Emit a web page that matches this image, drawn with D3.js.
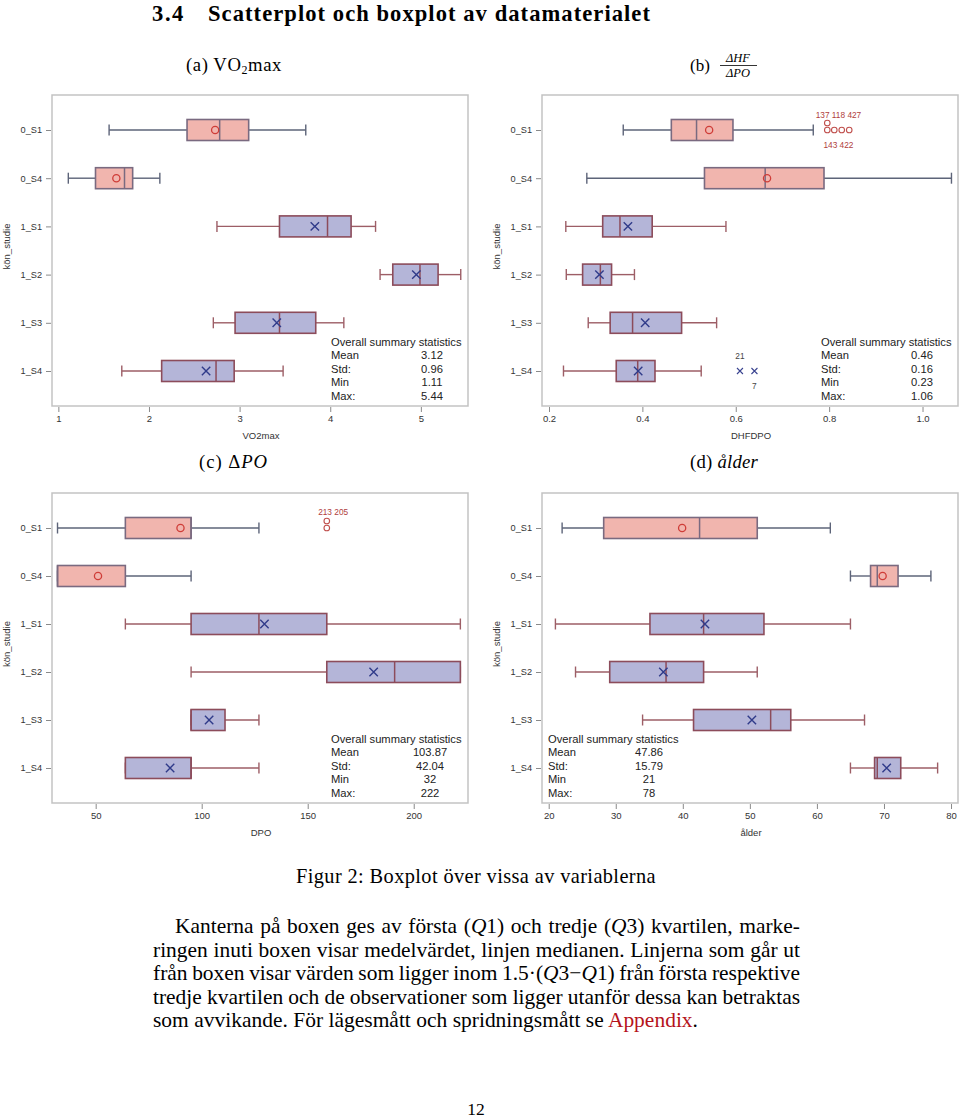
<!DOCTYPE html>
<html><head><meta charset="utf-8">
<script src="https://cdn.jsdelivr.net/npm/d3@7"></script>
<style>body{margin:0;background:#fff}svg{display:block}</style>
</head><body>
<script>
// ---------- DATA ----------
const categories = ["0_S1","0_S4","1_S1","1_S2","1_S3","1_S4"];
const statNames = ["Mean","Std:","Min","Max:"];

// (a) VO2max
const vo2Low    = [1.56, 1.11, 2.75, 4.55, 2.71, 1.70];
const vo2Q1     = [2.42, 1.41, 3.44, 4.69, 2.95, 2.14];
const vo2Median = [2.78, 1.73, 3.97, 4.99, 3.44, 2.74];
const vo2Q3     = [3.10, 1.82, 4.23, 5.19, 3.84, 2.94];
const vo2High   = [3.73, 2.12, 4.50, 5.44, 4.15, 3.48];
const vo2Mean   = [2.73, 1.64, 3.83, 4.95, 3.41, 2.63];
const vo2Ticks  = [1, 2, 3, 4, 5];
const vo2Stats  = ["3.12", "0.96", "1.11", "5.44"];

// (b) DHFDPO
const dhfLow    = [0.359, 0.281, 0.236, 0.237, 0.284, 0.231];
const dhfQ1     = [0.462, 0.533, 0.315, 0.272, 0.331, 0.344];
const dhfMedian = [0.516, 0.663, 0.352, 0.310, 0.379, 0.390];
const dhfQ3     = [0.594, 0.789, 0.421, 0.334, 0.484, 0.427];
const dhfHigh   = [0.766, 1.062, 0.579, 0.383, 0.559, 0.526];
const dhfMean   = [0.543, 0.667, 0.369, 0.308, 0.406, 0.391];
const dhfTicks  = [0.2, 0.4, 0.6, 0.8, 1.0];
const dhfStats  = ["0.46", "0.16", "0.23", "1.06"];
const dhfOutCat   = ["0_S1","0_S1","0_S1","0_S1","0_S1","1_S4","1_S4"];
const dhfOutValue = [0.796, 0.796, 0.811, 0.827, 0.843, 0.609, 0.640];
const dhfOutStack = [1, 0, 0, 0, 0, 0, 0];
const dhfLabelText  = ["137 118 427", "143 422", "21", "7"];
const dhfLabelCat   = ["0_S1", "0_S1", "1_S4", "1_S4"];
const dhfLabelValue = [0.820, 0.820, 0.609, 0.640];
const dhfLabelSide  = ["above", "below", "above", "below"];

// (c) DPO
const dpoLow    = [32, 32, 64, 95, 95, 64];
const dpoQ1     = [64, 32, 95, 159, 95, 64];
const dpoMedian = [95, 32, 127, 191, 95, 95];
const dpoQ3     = [95, 64, 159, 222, 111, 95];
const dpoHigh   = [127, 95, 222, 222, 127, 127];
const dpoMean   = [90.0, 51.1, 129.6, 181.1, 103.5, 85.1];
const dpoTicks  = [50, 100, 150, 200];
const dpoStats  = ["103.87", "42.04", "32", "222"];
const dpoOutCat   = ["0_S1", "0_S1"];
const dpoOutValue = [159, 159];
const dpoOutStack = [0, 1];
const dpoLabelText  = ["213 205"];
const dpoLabelCat   = ["0_S1"];
const dpoLabelValue = [162];
const dpoLabelSide  = ["above2"];

// (d) ålder
const ageLow    = [22, 65, 21, 24, 34, 65];
const ageQ1     = [28.2, 68, 35.1, 29.1, 41.6, 68.6];
const ageMedian = [42.5, 69, 43.1, 37.5, 53.1, 69];
const ageQ3     = [51.1, 72.1, 52.1, 43.1, 56.1, 72.5];
const ageHigh   = [62, 77, 65, 51.1, 67.1, 78];
const ageMean   = [39.9, 69.8, 43.3, 37.1, 50.3, 70.4];
const ageTicks  = [20, 30, 40, 50, 60, 70, 80];
const ageStats  = ["47.86", "15.79", "21", "78"];

// ---------- DRAW ----------
const svg = d3.select("body").append("svg").attr("width", 960).attr("height", 1119);
const SANS = "'Liberation Sans', Arial, sans-serif";
const SERIF = "'Liberation Serif', 'Times New Roman', serif";

const C = {
  fill0: "#f1b5ae", fill1: "#b4b5d8",
  box0: "#7a6a80", box1: "#8c4c5b",
  wh0: "#5d6479", wh1: "#9d5e66",
  mean0: "#cf3d38", mean1: "#303b8a",
  frame: "#c3c3c3", text: "#333"
};

function drawPanel(cfg) {
  const g = svg.append("g");
  const x = d3.scaleLinear().domain(cfg.domain).range([cfg.left, cfg.right]);
  const y = d3.scalePoint().domain(categories).range([cfg.top + 35, cfg.bottom - 35]);

  g.append("rect").attr("x", cfg.left).attr("y", cfg.top)
    .attr("width", cfg.right - cfg.left).attr("height", cfg.bottom - cfg.top)
    .attr("fill", "#fff").attr("stroke", C.frame).attr("stroke-width", 1.5);

  const xa = g.append("g").attr("transform", `translate(0,${cfg.bottom + 1})`)
    .call(d3.axisBottom(x).tickValues(cfg.ticks).tickFormat(cfg.fmt).tickSize(5).tickPadding(3));
  xa.select(".domain").remove();
  xa.selectAll("line").attr("stroke", "#8a8a8a");
  xa.selectAll("text").attr("font-family", SANS).attr("font-size", 9.5).attr("fill", C.text);

  const ya = g.append("g").attr("transform", `translate(${cfg.left - 1},0)`)
    .call(d3.axisLeft(y).tickSize(5).tickPadding(4));
  ya.select(".domain").remove();
  ya.selectAll("line").attr("stroke", "#8a8a8a");
  ya.selectAll("text").attr("font-family", SANS).attr("font-size", 9.2).attr("fill", C.text);

  g.append("text").attr("transform", `translate(${cfg.left - 42},${(cfg.top + cfg.bottom) / 2 - 4}) rotate(-90)`)
    .attr("text-anchor", "middle").attr("font-family", SANS).attr("font-size", 9.5)
    .attr("fill", C.text).text("kön_studie");
  g.append("text").attr("x", (cfg.left + cfg.right) / 2 + 1).attr("y", cfg.bottom + 33)
    .attr("text-anchor", "middle").attr("font-family", SANS).attr("font-size", 9.5)
    .attr("fill", C.text).text(cfg.title);

  const rows = categories.map((c, i) => ({
    cat: c, g0: c[0] === "0",
    lo: cfg.low[i], q1: cfg.q1[i], med: cfg.med[i], q3: cfg.q3[i], hi: cfg.high[i], mean: cfg.mean[i]
  }));
  const bh = 21, ch = 11;
  rows.forEach(r => {
    const cy = y(r.cat);
    const wc = r.g0 ? C.wh0 : C.wh1;
    const bc = r.g0 ? C.box0 : C.box1;
    const rg = g.append("g");
    rg.append("line").attr("x1", x(r.lo)).attr("x2", x(r.q1)).attr("y1", cy).attr("y2", cy)
      .attr("stroke", wc).attr("stroke-width", 1.4);
    rg.append("line").attr("x1", x(r.q3)).attr("x2", x(r.hi)).attr("y1", cy).attr("y2", cy)
      .attr("stroke", wc).attr("stroke-width", 1.4);
    [r.lo, r.hi].forEach(v => rg.append("line").attr("x1", x(v)).attr("x2", x(v))
      .attr("y1", cy - ch / 2).attr("y2", cy + ch / 2).attr("stroke", wc).attr("stroke-width", 1.4));
    rg.append("rect").attr("x", x(r.q1)).attr("y", cy - bh / 2)
      .attr("width", Math.max(0, x(r.q3) - x(r.q1))).attr("height", bh)
      .attr("fill", r.g0 ? C.fill0 : C.fill1).attr("stroke", bc).attr("stroke-width", 1.6);
    rg.append("line").attr("x1", x(r.med)).attr("x2", x(r.med))
      .attr("y1", cy - bh / 2).attr("y2", cy + bh / 2).attr("stroke", bc).attr("stroke-width", 1.5);
    const mx = x(r.mean);
    if (r.g0) {
      rg.append("circle").attr("cx", mx).attr("cy", cy).attr("r", 3.6)
        .attr("fill", "none").attr("stroke", C.mean0).attr("stroke-width", 1.3);
    } else {
      const s = 4.2;
      rg.append("path").attr("d", `M${mx - s},${cy - s}L${mx + s},${cy + s}M${mx - s},${cy + s}L${mx + s},${cy - s}`)
        .attr("stroke", C.mean1).attr("stroke-width", 1.4);
    }
  });

  if (cfg.outCat) {
    cfg.outCat.forEach((c, i) => {
      const ox = x(cfg.outValue[i]), oy = y(c) - cfg.outStack[i] * 7;
      if (c[0] === "0") {
        g.append("circle").attr("cx", ox).attr("cy", oy).attr("r", 2.8)
          .attr("fill", "none").attr("stroke", "#c0504d").attr("stroke-width", 1.1);
      } else {
        const s = 3;
        g.append("path").attr("d", `M${ox - s},${oy - s}L${ox + s},${oy + s}M${ox - s},${oy + s}L${ox + s},${oy - s}`)
          .attr("stroke", "#3a4490").attr("stroke-width", 1.1);
      }
    });
    cfg.labelText.forEach((t, i) => {
      const c = cfg.labelCat[i];
      const side = cfg.labelSide[i];
      const dy = side === "above" ? -15 : side === "above2" ? -16 : 15;
      g.append("text").attr("x", x(cfg.labelValue[i])).attr("y", y(c) + dy)
        .attr("dy", "0.35em").attr("text-anchor", "middle").attr("font-family", SANS)
        .attr("font-size", 8.3).attr("fill", c[0] === "0" ? "#b0403c" : "#444").text(t);
    });
  }

  const sy = cfg.bottom - 64;
  g.append("text").attr("x", cfg.statX).attr("y", sy).attr("dy", "0.35em")
    .attr("font-family", SANS).attr("font-size", 11.2).attr("fill", "#222")
    .text("Overall summary statistics");
  statNames.forEach((n, i) => {
    const yy = sy + 13.5 * (i + 1);
    g.append("text").attr("x", cfg.statX).attr("y", yy).attr("dy", "0.35em")
      .attr("font-family", SANS).attr("font-size", 11.2).attr("fill", "#222").text(n);
    g.append("text").attr("x", cfg.statVX).attr("y", yy).attr("dy", "0.35em").attr("text-anchor", "middle")
      .attr("font-family", SANS).attr("font-size", 11.2).attr("fill", "#222").text(cfg.stats[i]);
  });
}

drawPanel({left: 52, right: 468, top: 95, bottom: 406, domain: [0.93, 5.52], ticks: vo2Ticks,
  fmt: d3.format("d"), title: "VO2max",
  low: vo2Low, q1: vo2Q1, med: vo2Median, q3: vo2Q3, high: vo2High, mean: vo2Mean,
  stats: vo2Stats, statX: 331, statVX: 432});
drawPanel({left: 542, right: 958, top: 95, bottom: 406, domain: [0.185, 1.076], ticks: dhfTicks,
  fmt: d3.format(".1f"), title: "DHFDPO",
  low: dhfLow, q1: dhfQ1, med: dhfMedian, q3: dhfQ3, high: dhfHigh, mean: dhfMean,
  outCat: dhfOutCat, outValue: dhfOutValue, outStack: dhfOutStack,
  labelText: dhfLabelText, labelCat: dhfLabelCat, labelValue: dhfLabelValue, labelSide: dhfLabelSide,
  stats: dhfStats, statX: 821, statVX: 922});
drawPanel({left: 52, right: 468, top: 493, bottom: 803, domain: [29.4, 225.6], ticks: dpoTicks,
  fmt: d3.format("d"), title: "DPO",
  low: dpoLow, q1: dpoQ1, med: dpoMedian, q3: dpoQ3, high: dpoHigh, mean: dpoMean,
  outCat: dpoOutCat, outValue: dpoOutValue, outStack: dpoOutStack,
  labelText: dpoLabelText, labelCat: dpoLabelCat, labelValue: dpoLabelValue, labelSide: dpoLabelSide,
  stats: dpoStats, statX: 331, statVX: 430});
drawPanel({left: 542, right: 958, top: 493, bottom: 803, domain: [19, 81.04], ticks: ageTicks,
  fmt: d3.format("d"), title: "ålder",
  low: ageLow, q1: ageQ1, med: ageMedian, q3: ageQ3, high: ageHigh, mean: ageMean,
  stats: ageStats, statX: 548, statVX: 649});

// ---------- DOCUMENT TEXT ----------
// scale the font a little toward the target width, then fill the rest with letter spacing
function fitText(sel, target, maxScale) {
  const fs = +sel.attr("font-size");
  const L = sel.node().getComputedTextLength();
  const sc = Math.min(maxScale || 1.1, target / L);
  sel.attr("font-size", fs * sc);
  const L2 = sel.node().getComputedTextLength();
  const n = sel.text().length;
  sel.attr("letter-spacing", (target - L2) / Math.max(1, n));
}
function justify(sel, target) {
  const L = sel.node().getComputedTextLength();
  const spaces = (sel.text().match(/ /g) || []).length;
  sel.attr("word-spacing", (target - L) / Math.max(1, spaces));
}

const t1 = svg.append("text").attr("x", 152).attr("y", 21).attr("font-family", SERIF)
  .attr("font-size", 21.5).attr("font-weight", "bold").text("3.4");
fitText(t1, 33, 1.05);
const t2 = svg.append("text").attr("x", 208).attr("y", 21).attr("font-family", SERIF)
  .attr("font-size", 21.5).attr("font-weight", "bold").text("Scatterplot och boxplot av datamaterialet");
fitText(t2, 443, 1.05);

function subcap(xp, yp, parts, target) {
  const t = svg.append("text").attr("x", xp).attr("y", yp).attr("font-family", SERIF).attr("font-size", 17);
  parts.forEach(p => {
    const ts = t.append("tspan").text(p.t);
    if (p.it) ts.attr("font-style", "italic");
    if (p.sub) ts.attr("font-size", 12).attr("dy", 3);
    if (p.up) ts.attr("dy", -3);
  });
  if (target) fitText(t, target, 1.1);
  return t;
}
subcap(186, 71, [{t: "(a) VO"}, {t: "2", sub: true}, {t: "max", up: true}], 96);
subcap(690, 71, [{t: "(b) "}]);
svg.append("text").attr("x", 738).attr("y", 62).attr("text-anchor", "middle").attr("font-family", SERIF)
  .attr("font-size", 12.5).attr("font-style", "italic").text("ΔHF");
svg.append("line").attr("x1", 720).attr("x2", 757).attr("y1", 65.5).attr("y2", 65.5)
  .attr("stroke", "#000").attr("stroke-width", 0.8);
svg.append("text").attr("x", 738).attr("y", 77).attr("text-anchor", "middle").attr("font-family", SERIF)
  .attr("font-size", 12.5).attr("font-style", "italic").text("ΔPO");
subcap(199, 468, [{t: "(c) Δ"}, {t: "PO", it: true}], 69);
subcap(690, 468, [{t: "(d) "}, {t: "ålder", it: true}], 68);

const cap = svg.append("text").attr("x", 296).attr("y", 883).attr("font-family", SERIF)
  .attr("font-size", 18.5).text("Figur 2: Boxplot över vissa av variablerna");
fitText(cap, 360, 1.1);

const paraLines = [
  [{t: "Kanterna på boxen ges av första ("}, {t: "Q", it: 1}, {t: "1) och tredje ("}, {t: "Q", it: 1}, {t: "3) kvartilen, marke-"}],
  [{t: "ringen inuti boxen visar medelvärdet, linjen medianen. Linjerna som går ut"}],
  [{t: "från boxen visar värden som ligger inom 1.5·("}, {t: "Q", it: 1}, {t: "3−"}, {t: "Q", it: 1}, {t: "1) från första respektive"}],
  [{t: "tredje kvartilen och de observationer som ligger utanför dessa kan betraktas"}],
  [{t: "som avvikande. För lägesmått och spridningsmått se "}, {t: "Appendix", red: 1}, {t: "."}]
];
const paraX = [175, 153, 153, 153, 153];
const paraW = [625, 647, 647, 647, 545];
const paraTexts = paraLines.map((segs, i) => {
  const t = svg.append("text").attr("x", paraX[i]).attr("y", 933 + 23.5 * i)
    .attr("font-family", SERIF).attr("font-size", 19.5);
  segs.forEach(s => {
    const ts = t.append("tspan").text(s.t);
    if (s.it) ts.attr("font-style", "italic");
    if (s.red) ts.attr("fill", "#b5121b");
  });
  return t;
});
// common font size chosen from the last (unjustified) line
const lastL = paraTexts[4].node().getComputedTextLength();
const paraFs = 19.5 * Math.min(1.1, 545 / lastL);
paraTexts.forEach((t, i) => {
  t.attr("font-size", paraFs);
  if (i < 4) justify(t, paraW[i]);
  else {
    const L2 = t.node().getComputedTextLength();
    t.attr("letter-spacing", (545 - L2) / t.text().length);
  }
});

svg.append("text").attr("x", 476).attr("y", 1115).attr("text-anchor", "middle")
  .attr("font-family", SERIF).attr("font-size", 17.5).text("12");
</script>
</body></html>
